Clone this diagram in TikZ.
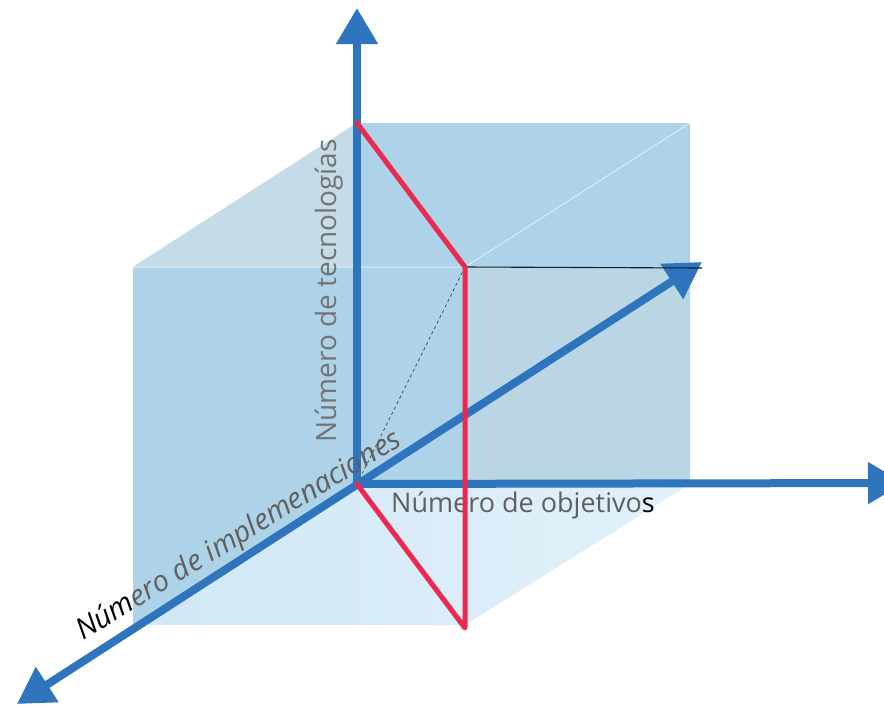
\documentclass[tikz,border=0pt]{standalone}
\usepackage{fontspec}
\setmainfont{Open Sans}
\usepackage{tikz}
\usetikzlibrary{arrows.meta, positioning}

\definecolor{axisblue}{RGB}{46,117,190}
\definecolor{cutred}{RGB}{233,41,79}
\definecolor{cubeblue}{RGB}{174,211,232}
\definecolor{cubepale}{RGB}{197,220,232}
\definecolor{cubegray}{RGB}{186,214,228}
\definecolor{floorblue}{RGB}{214,235,248}
\definecolor{labelgray}{RGB}{95,95,95}

\begin{document}
\begin{tikzpicture}[x=1pt, y=-1pt,
    axis/.style={draw=axisblue, line width=8pt, -{Triangle[length=36pt, width=40pt]}},
    biaxis/.style={draw=axisblue, line width=8pt, {Triangle[length=36pt, width=40pt]}-{Triangle[length=36pt, width=40pt]}},
    cut/.style={draw=cutred, line width=5pt, line join=round, line cap=round},
    axislabel/.style={font=\fontsize{27}{32}\selectfont, text=labelgray, inner sep=0pt}]
    \useasboundingbox (0,0) rectangle (884,705);

    \coordinate (O) at (357,484);
    \coordinate (T) at (357,123);
    \coordinate (TR) at (690,123);
    \coordinate (R) at (690,484);
    \coordinate (F) at (133,267);
    \coordinate (FR) at (465,267);
    \coordinate (FB) at (133,625);
    \coordinate (FBR) at (465,625);
    \coordinate (Cb) at (465,628);
    \coordinate (H) at (702,268);

    \fill[cubeblue] (F) -- (T) -- (TR) -- (R) -- (O) -- (FB) -- cycle;
    \fill[cubepale] (F) -- (T) -- (357,267) -- cycle;
    \fill[cubegray] (FR) -- (690,267) -- (R) -- (465,484) -- cycle;
    \shade[left color=floorblue!85!cubeblue, right color=floorblue!70!white] (O) -- (R) -- (FBR) -- (FB) -- cycle;
    \draw[white, opacity=0.6, line width=1pt] (F) -- (FR) -- (TR);

    \draw[black!70, dashed, line width=0.8pt, shorten >=12pt] (FR) -- (O);

    \coordinate (Ztip) at (357,8);
    \coordinate (Xtip) at (904,483);
    \coordinate (Ytip) at (702,262);
    \coordinate (Ybot) at (17,704);
    \draw[biaxis] (Ybot) -- (Ytip);
    \draw[axis] (O) -- (Ztip);
    \draw[axis] ([xshift=-4pt]O) -- (Xtip);
    \draw[black!70!axisblue, line width=1.1pt] (FR) -- (H);

    \node[axislabel, font=\fontsize{28}{32}\selectfont, text=black!55, rotate=90] (zlab) at (329,291) {Número de tecnologías};
    \node[axislabel, anchor=base west] (xlab) at (391,512) {Número de objetivo\textcolor{black}{s}};
    \node[axislabel, font=\fontsize{29}{34}\selectfont\itshape, rotate=31.5, anchor=base west] (ylab) at (83,641)
        {\textcolor{black}{Núm}ero de implemenaciones};

    \draw[cut] (T) -- (FR) -- (Cb) -- (O);
\end{tikzpicture}
\end{document}
